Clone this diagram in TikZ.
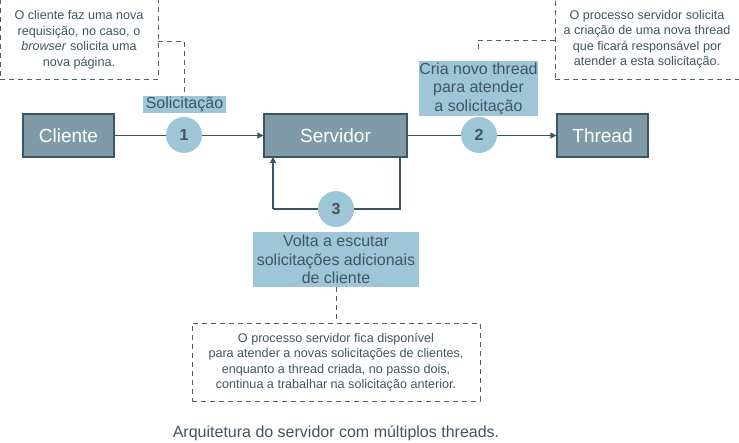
\documentclass[tikz,border=0pt]{standalone}
\usepackage{fontspec}
\setmainfont{Liberation Sans}
\usetikzlibrary{arrows.meta}
\definecolor{boxfill}{HTML}{809BA8}
\definecolor{boxdraw}{HTML}{3C5561}
\definecolor{lblue}{HTML}{9EC6D8}
\definecolor{txt}{HTML}{3F5660}
\definecolor{dash}{HTML}{4A5F68}
\tikzset{
  mainbox/.style={draw=boxdraw, line width=1.2pt, fill=boxfill, text=white, font=\fontsize{19}{21}\selectfont, minimum height=43pt, inner sep=0pt},
  stepcirc/.style={circle, fill=lblue, text=txt, minimum size=36pt, inner sep=0pt, font=\bfseries\fontsize{16}{18}\selectfont},
  lbl/.style={fill=lblue, text=txt, align=center, inner sep=0pt, font=\fontsize{16}{18.5}\selectfont},
  note/.style={draw=dash, dashed, dash pattern=on 5pt off 4pt, line width=0.8pt, text=txt, align=center, inner sep=0pt, font=\fontsize{12.6}{15.5}\selectfont},
  dline/.style={draw=dash, dash pattern=on 5pt off 4pt, line width=0.8pt},
  conn/.style={draw=boxdraw, line width=1.2pt},
  arr/.style={conn, -{Triangle[length=6pt,width=6pt]}}
}
\begin{document}
\begin{tikzpicture}[x=1pt,y=-1pt]
\useasboundingbox (0,0) rectangle (739,443);
% main boxes
\node[mainbox, minimum width=91pt] (cli) at (68.5,135.5) {Cliente};
\node[mainbox, minimum width=143pt] (srv) at (335.5,135.5) {Servidor};
\node[mainbox, minimum width=91pt] (thr) at (602.5,135.5) {Thread};
% notes
\node[note, minimum width=158pt, minimum height=80pt] (n1) at (79,39.5) {O cliente faz uma nova\\requisição, no caso, o\\\textit{browser} solicita uma\\nova página.};
\node[note, minimum width=184pt, minimum height=80pt] (n2) at (647,39.5) {O processo servidor solicita\\a criação de uma nova thread\\que ficará responsável por\\atender a esta solicitação.};
\node[note, minimum width=288pt, minimum height=78pt] (n3) at (336,362) {O processo servidor fica disponível\\para atender a novas solicitações de clientes,\\enquanto a thread criada, no passo dois,\\continua a trabalhar na solicitação anterior.};
% connectors
\draw[arr] (cli.east) -- (srv.west);
\draw[arr] (srv.east) -- (thr.west);
\coordinate (lr) at (400,157);
\coordinate (lb) at (400,209);
\coordinate (ll) at (273,209);
\coordinate (lt) at (273,157);
\draw[conn] (lr) -- (lb) -- (ll);
\draw[arr] (ll) -- (lt);
% step circles
\node[stepcirc] (c1) at (184,135) {1};
\node[stepcirc] (c2) at (479,135) {2};
\node[stepcirc] (c3) at (336,209) {3};
% labels
\node[lbl, minimum width=83pt, minimum height=17pt] (l1) at (184.5,104.5) {Solicitação};
\node[lbl, minimum width=119pt, minimum height=55pt] (l2) at (478.5,88.5) {Cria novo thread\\para atender\\a solicitação};
\node[lbl, minimum width=166pt, minimum height=55pt] (l3) at (336,259.5) {Volta a escutar\\solicitações adicionais\\de cliente};
% dashed leaders
\coordinate (d1) at (184,41);
\draw[dline] (n1.east |- d1) -- (d1) -- (l1.north -| d1);
\coordinate (d2) at (478,40);
\draw[dline] (n2.west |- d2) -- (d2) -- (478,52);
\draw[dline] (l3.south) -- (n3.north);
% caption
\node[text=txt, font=\fontsize{16}{19}\selectfont] (cap) at (336,433) {Arquitetura do servidor com múltiplos threads.};
\end{tikzpicture}
\end{document}
